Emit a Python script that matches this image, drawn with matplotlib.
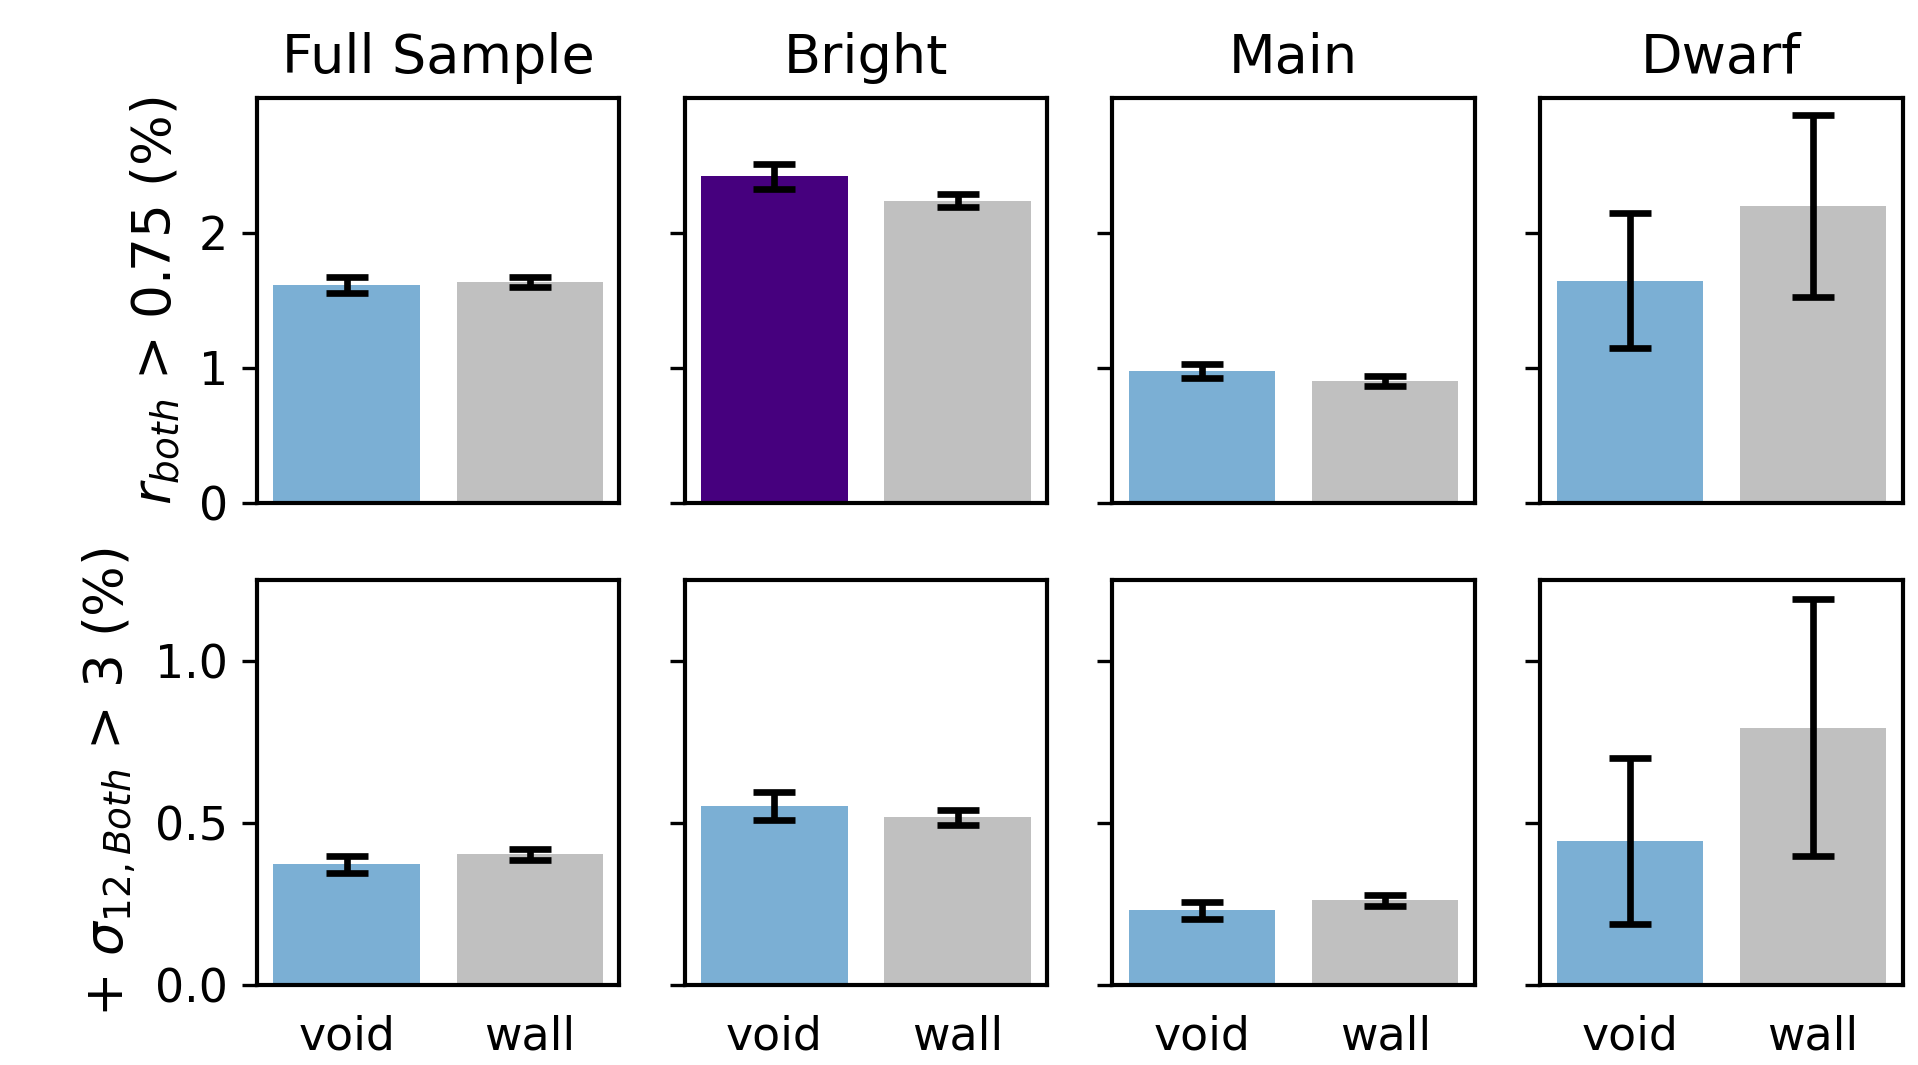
import matplotlib.pyplot as plt
import numpy as np

# Samples (columns) and environments (bars)
samples = ['Full Sample', 'Bright', 'Main', 'Dwarf']
envs = ['void', 'wall']

# Top row: r_both > 0.75 (%)
r_void = [1.61, 2.415, 0.975, 1.643]
r_void_err = [0.06, 0.09, 0.05, 0.50]
r_wall = [1.635, 2.237, 0.903, 2.197]
r_wall_err = [0.035, 0.05, 0.037, 0.67]

# Bottom row: + sigma_12,Both > 3 (%)
s_void = [0.373, 0.553, 0.231, 0.446]
s_void_err = [0.026, 0.044, 0.027, 0.257]
s_wall = [0.404, 0.518, 0.262, 0.795]
s_wall_err = [0.016, 0.023, 0.018, 0.397]

void_color = '#7BAFD4'
wall_color = '#C0C0C0'
highlight_color = '#46007E'  # Bright void, top row

plt.rcParams['axes.linewidth'] = 1.0

fig, axes = plt.subplots(2, 4, figsize=(1918 / 300, 1065 / 300), dpi=300,
                         sharex=True, sharey='row')
fig.subplots_adjust(left=0.134, right=0.992, top=0.908, bottom=0.075,
                    wspace=0.18, hspace=0.19)

rows = [(r_void, r_void_err, r_wall, r_wall_err),
        (s_void, s_void_err, s_wall, s_wall_err)]

index = np.arange(len(envs))
ekw = dict(elinewidth=1.6, capthick=1.6, ecolor='black')

for i, (v, ve, w, we) in enumerate(rows):
    for j, name in enumerate(samples):
        ax = axes[i, j]
        vc = highlight_color if (i == 0 and name == 'Bright') else void_color
        ax.bar(index, [v[j], w[j]], yerr=[ve[j], we[j]], capsize=5,
               color=[vc, wall_color], error_kw=ekw)
        ax.tick_params(axis='x', bottom=False, labelsize=11)
        ax.tick_params(axis='y', labelsize=11)
        if i == 0:
            ax.set_title(name, fontsize=13)

# top row stops just short of 3, so no "3" tick
axes[0, 0].set_ylim(0, 2.995)

axes[1, 0].set_xticks(index)
axes[1, 0].set_xticklabels(envs)

axes[0, 0].set_ylabel(r'$r_{both}$ > 0.75 (%)', fontsize=12.8)
axes[1, 0].set_ylabel(r'+ $\sigma_{12, Both}$ > 3 (%)', fontsize=12.8)

plt.savefig('out.png', dpi=300)
